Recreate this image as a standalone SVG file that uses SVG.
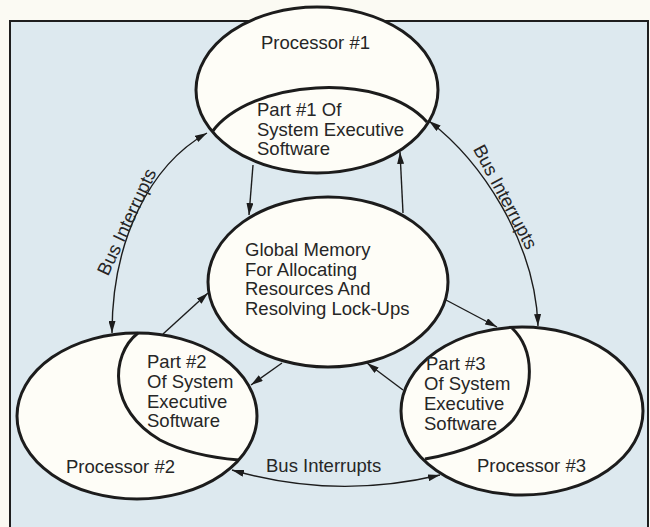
<svg xmlns="http://www.w3.org/2000/svg" width="650" height="527" viewBox="0 0 650 527">
<style>
.bg{fill:#dde9ef;stroke:#1e1e1e;stroke-width:2}
.node{fill:#fefdf7;stroke:#1c1c1c;stroke-width:3}
.div{fill:none;stroke:#1c1c1c;stroke-width:3}
.conn{fill:none;stroke:#1c1c1c;stroke-width:1.4}
text{font-family:"Liberation Sans",Arial,sans-serif;font-size:18.5px;fill:#262626}
</style>
<defs>
<marker id="ah" viewBox="0 0 12 7" markerWidth="12" markerHeight="7" refX="12" refY="3.5" orient="auto-start-reverse" markerUnits="userSpaceOnUse">
<path d="M0,0 L12,3.5 L0,7 z" fill="#1c1c1c"/>
</marker>
</defs>
<rect width="650" height="527" fill="#fbfaf3"/>
<rect id="frame" class="bg" x="10" y="21" width="638" height="530"/>

<g id="processor1">
<ellipse class="node" cx="317" cy="90" rx="121" ry="83"/>
<path class="div" d="M212 132 C250 80 380 70 427 122"/>
<text x="261" y="49">Processor #1</text>
<text x="257" y="116">Part #1 Of</text>
<text x="257" y="135.5">System Executive</text>
<text x="257" y="155">Software</text>
</g>

<g id="global-memory">
<ellipse class="node" cx="328" cy="282" rx="120" ry="85"/>
<text x="245" y="256">Global Memory</text>
<text x="245" y="275.5">For Allocating</text>
<text x="245" y="295">Resources And</text>
<text x="245" y="314.5">Resolving Lock-Ups</text>
</g>

<g id="processor2">
<ellipse class="node" cx="137" cy="416" rx="120" ry="83"/>
<path class="div" d="M138 333 C110 355 108 410 160 440 C185 453 215 458 239 460"/>
<text x="147" y="368">Part #2</text>
<text x="147" y="388">Of System</text>
<text x="147" y="407.5">Executive</text>
<text x="147" y="427">Software</text>
<text x="66" y="473">Processor #2</text>
</g>

<g id="processor3">
<ellipse class="node" cx="522" cy="411" rx="121" ry="84"/>
<path class="div" d="M512 328 C535 350 535 390 513 420 C495 440 465 452 425 459"/>
<text x="426" y="369.5">Part #3</text>
<text x="424" y="390">Of System</text>
<text x="424" y="410">Executive</text>
<text x="424" y="430">Software</text>
<text x="477" y="472">Processor #3</text>
</g>

<g id="connectors">
<path class="conn" d="M253 165 L249 215" marker-end="url(#ah)"/>
<path class="conn" d="M403 213 L400 152" marker-end="url(#ah)"/>
<path class="conn" d="M446 300 L497 327" marker-end="url(#ah)"/>
<path class="conn" d="M403 390 L367 363" marker-end="url(#ah)"/>
<path class="conn" d="M282 363 L251 385" marker-end="url(#ah)"/>
<path class="conn" d="M163 334 L208 293" marker-end="url(#ah)"/>
<path class="conn" d="M207 133 C150 165 112 240 112 333" marker-start="url(#ah)" marker-end="url(#ah)"/>
<path class="conn" d="M429 121 C480 160 535 240 538 326" marker-start="url(#ah)" marker-end="url(#ah)"/>
<path class="conn" d="M232 470 Q335 500 440 475" marker-start="url(#ah)" marker-end="url(#ah)"/>
</g>

<g id="labels">
<text transform="translate(127,222) rotate(-65)" x="0" y="6" text-anchor="middle">Bus Interrupts</text>
<text transform="translate(505,197) rotate(62)" x="0" y="6" text-anchor="middle">Bus Interrupts</text>
<text x="266" y="472">Bus Interrupts</text>
</g>
</svg>
